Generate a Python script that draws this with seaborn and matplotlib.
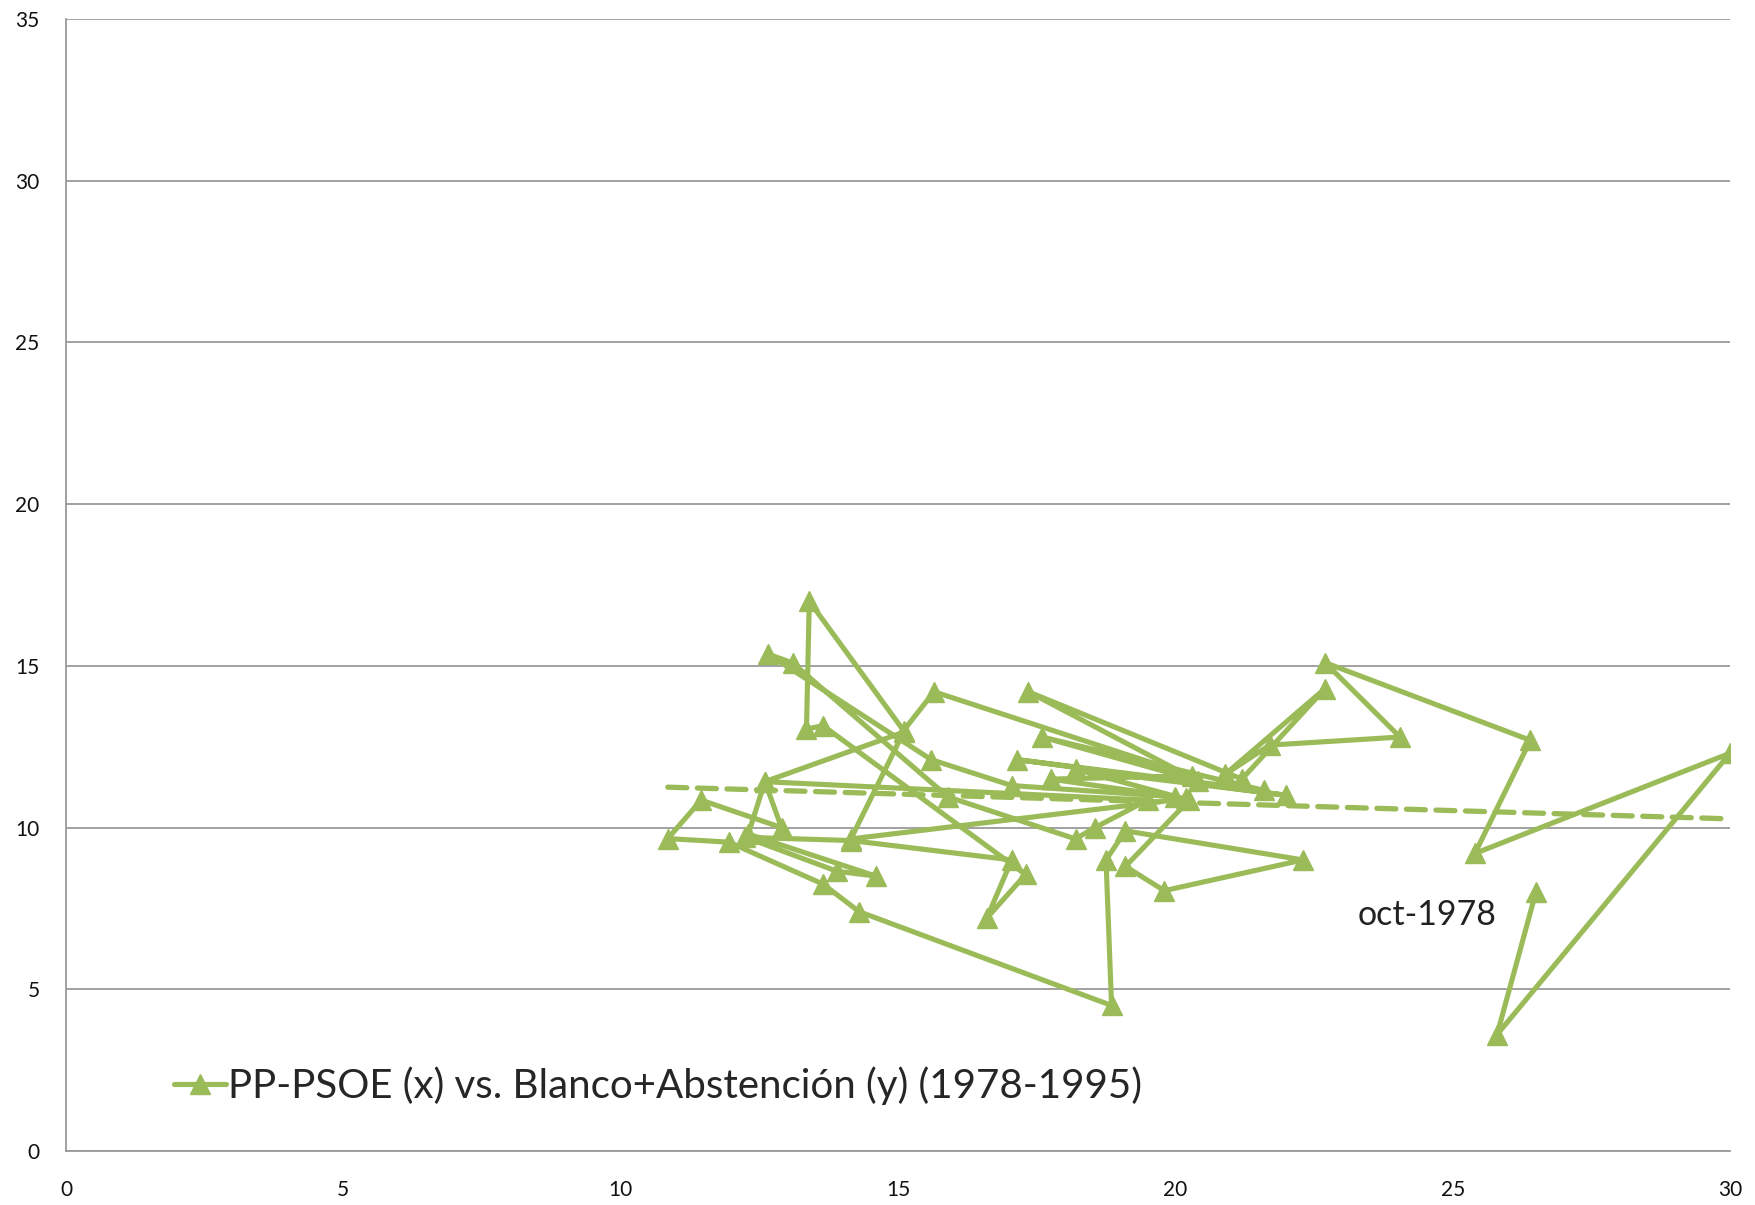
import numpy as np
import pandas as pd
import matplotlib
matplotlib.use('Agg')
import matplotlib.pyplot as plt
import seaborn as sns

# PP-PSOE (x) vs Blanco+Abstencion (y), in order, starting at oct-1978
pp_psoe = [26.5, 25.8, 30.0, 25.4, 26.4, 22.7, 24.05, 21.7, 20.9, 22.7,
           21.2, 17.35, 20.4, 17.6, 21.6, 17.15, 22.0, 18.2, 20.25, 19.1,
           19.8, 22.3, 19.1, 18.75, 18.85, 14.3, 13.65, 11.95, 10.85, 11.45,
           12.9, 12.6, 12.3, 14.6, 13.9, 12.25, 14.15, 17.05, 16.6, 17.3,
           13.65, 13.35, 13.4, 15.1, 15.65, 20.3, 17.75, 20.0, 17.05, 15.6,
           12.65, 13.1, 15.9, 18.2, 18.55, 19.5, 12.6, 15.1, 14.15, 20.2]
blanco_abst = [8.0, 3.6, 12.3, 9.2, 12.7, 15.1, 12.8, 12.55, 11.65, 14.3,
               11.5, 14.2, 11.45, 12.8, 11.15, 12.1, 11.0, 11.8, 10.85, 8.8,
               8.05, 9.0, 9.9, 9.0, 4.5, 7.4, 8.25, 9.55, 9.66, 10.85,
               10.0, 11.42, 9.8, 8.5, 8.65, 9.7, 9.6, 9.0, 7.2, 8.55,
               13.15, 13.05, 17.0, 13.0, 14.2, 11.6, 11.5, 10.95, 11.3, 12.1,
               15.37, 15.09, 10.95, 9.65, 10.0, 10.85, 11.42, 12.95, 9.65, 10.9]

# linear trend line
trend_x = [10.85, 30.0]
trend_y = [11.25, 10.27]

series_label = 'PP-PSOE (x) vs. Blanco+Abstención (y) (1978-1995)'
first_label = 'oct-1978'

green = '#9BBB59'
grid_grey = '#9a9a9a'

df = pd.DataFrame({'x': pp_psoe, 'y': blanco_abst})
trend = pd.DataFrame({'x': trend_x, 'y': trend_y})

sns.set_style('white')
plt.rcParams['font.family'] = ['Lato', 'DejaVu Sans']

fig = plt.figure(figsize=(17.56, 12.05), dpi=100)
ax = fig.add_axes([0.0376, 0.0448, 0.9476, 0.9394])

sns.lineplot(data=trend, x='x', y='y', sort=False, estimator=None, ax=ax,
             color=green, linewidth=3.8, linestyle=(0, (3.6, 2.0)),
             legend=False)
ax.lines[-1].set_dash_capstyle('round')

sns.lineplot(data=df, x='x', y='y', sort=False, estimator=None, ax=ax,
             color=green, linewidth=3.7, marker='^', markersize=14,
             markeredgecolor=green, markeredgewidth=1, label=series_label)

ax.set_xlim(0, 30)
ax.set_ylim(0, 35)
ax.set_xticks(range(0, 31, 5))
ax.set_yticks(range(0, 36, 5))
ax.set_xlabel('')
ax.set_ylabel('')

ax.grid(axis='y', color=grid_grey, linewidth=1.3)
ax.grid(axis='x', visible=False)
ax.set_axisbelow(True)
for side in ['top', 'right']:
    ax.spines[side].set_visible(False)
for side in ['left', 'bottom']:
    ax.spines[side].set_color(grid_grey)
    ax.spines[side].set_linewidth(1.3)

ax.tick_params(axis='both', which='major', direction='out', length=7,
               width=1.3, color=grid_grey, labelsize=15, labelcolor='#111111')
ax.tick_params(axis='y', pad=12)
ax.tick_params(axis='x', pad=14)

ax.annotate(first_label, xy=(pp_psoe[0], blanco_abst[0]), xytext=(-128, -16),
            textcoords='offset points', fontsize=24.5, color='#222222',
            ha='left', va='center')

ax.legend(loc='lower left', bbox_to_anchor=(0.055, 0.026), frameon=False,
          fontsize=29, handlelength=1.3, handletextpad=0.05,
          borderaxespad=0)

fig.savefig('out.png', dpi=100)
